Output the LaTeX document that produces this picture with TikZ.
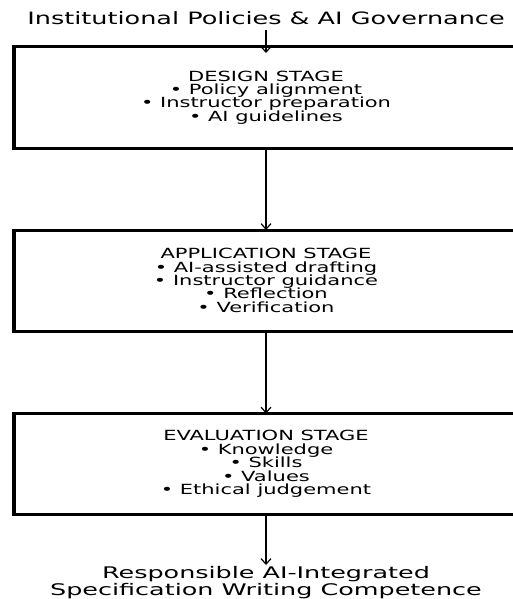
\documentclass[tikz,border=0pt]{standalone}
\usepackage{fontspec}
\setmainfont{DejaVu Sans}
\usetikzlibrary{arrows.meta}
\newcommand{\widetext}[1]{\scalebox{1.5}[1]{#1}}
\newcommand{\stagetext}[1]{\scalebox{1.5}[1]{\parbox{230pt}{\centering\fontsize{14}{13.4}\selectfont\lineskiplimit=-20pt\relax #1}}}
\newcommand{\bigtext}[1]{\scalebox{1.59}[1]{\parbox{330pt}{\centering\fontsize{16}{17}\selectfont\lineskiplimit=-20pt\relax #1}}}
\begin{document}
\begin{tikzpicture}[x=1pt,y=1pt,
  stagebox/.style={draw, line width=3pt, minimum width=504pt, minimum height=101pt, inner sep=0pt, outer sep=0pt},
  flow/.style={-{Straight Barb[length=5.5pt,width=10pt]}, line width=1.2pt},
  heading/.style={inner sep=0pt, outer sep=0pt, font=\fontsize{17}{20}\selectfont}]
\useasboundingbox (0,0) rectangle (513,-599);
\node[heading, anchor=base] (top) at (266,-25) {\widetext{Institutional Policies \& AI Governance}};
\node[stagebox] (d1) at (266,-97.5) {\stagetext{DESIGN STAGE\\• Policy alignment\\• Instructor preparation\\• AI guidelines}};
\node[stagebox] (d2) at (266,-280.5) {\stagetext{APPLICATION STAGE\\• AI-assisted drafting\\• Instructor guidance\\• Reflection\\• Verification}};
\node[stagebox] (d3) at (266,-464) {\stagetext{EVALUATION STAGE\\• Knowledge\\• Skills\\• Values\\• Ethical judgement}};
\node[heading, anchor=north] (res) at (266,-566) {\bigtext{Responsible AI-Integrated\\Specification Writing Competence}};
\foreach \b in {d1,d2,d3}{
  \draw[line width=4.5pt] ([yshift=1.5pt]\b.north west) -- ([yshift=-1.5pt]\b.south west);
}
\draw[flow, shorten <=5pt, shorten >=-6pt] (top.south) -- (d1.north);
\draw[flow] (d1.south) -- (d2.north);
\draw[flow] (d2.south) -- (d3.north);
\draw[flow, shorten >=1pt] (d3.south) -- (res.north);
\end{tikzpicture}
\end{document}
